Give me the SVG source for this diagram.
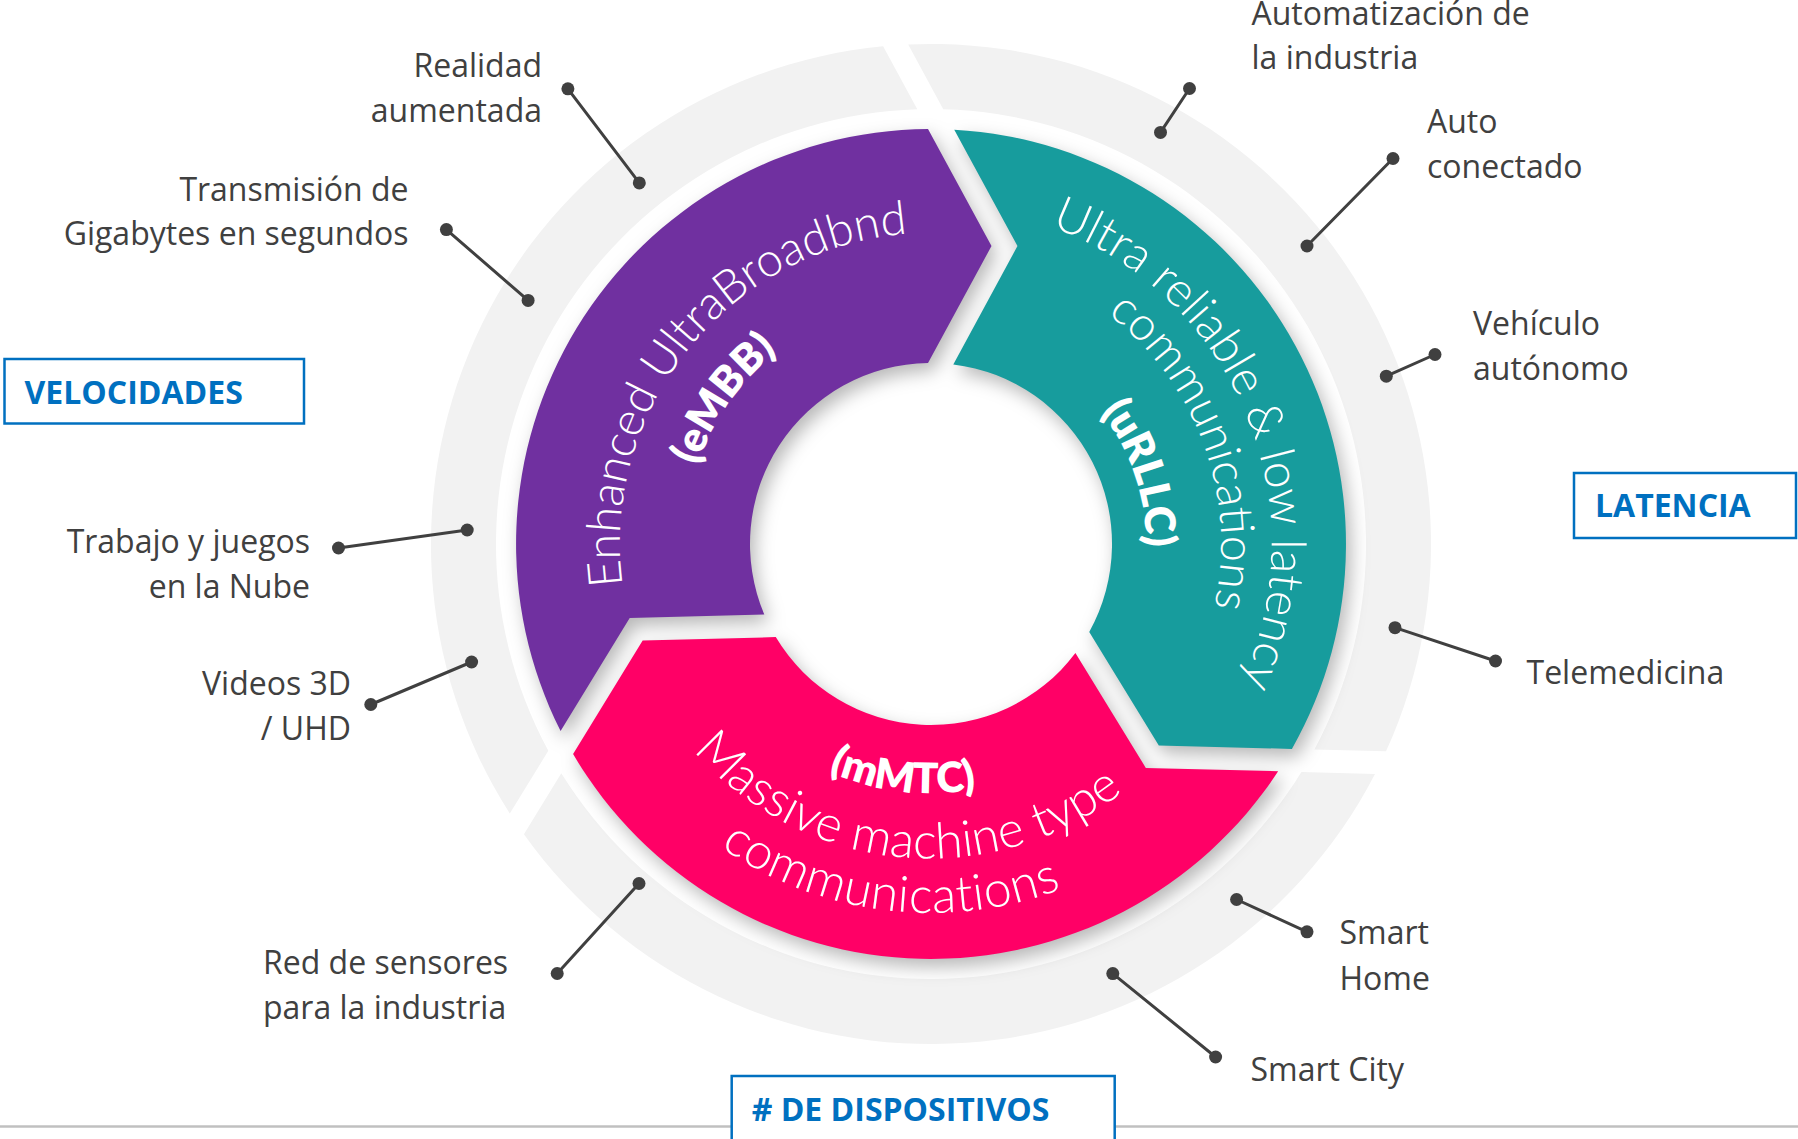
<svg xmlns="http://www.w3.org/2000/svg" width="1798" height="1139" viewBox="0 0 1798 1139">
<style>
.lbl{font-family:"Open Sans","Noto Sans",sans-serif;font-size:32px;fill:#404040}
.end{text-anchor:end}
.box{fill:#ffffff;stroke:#0070C0;stroke-width:2.5}
.boxt{font-family:"Open Sans","Noto Sans",sans-serif;font-size:32px;font-weight:700;fill:#0070C0}
.st{font-family:Lato,"Open Sans",sans-serif;font-weight:300;font-size:47px;fill:#ffffff}
.stp{font-family:Lato,"Open Sans",sans-serif;font-weight:300;font-size:50px;fill:#ffffff}
.sb{font-family:Lato,"Open Sans",sans-serif;font-weight:800;font-size:42px;fill:#ffffff}
.con line{stroke:#404040;stroke-width:3;stroke-linecap:round}
.con circle{fill:#404040}
.gray{fill:#f2f2f2}
</style>
<defs>
<path id="seg" d="M -370.4 187.0 A 415 415 0 0 1 -3 -415 L 60.5 -298 L -3 -181 A 181 181 0 0 0 -166.7 70.5 L -301.3 74.1 Z"/>
<path id="gseg" d="M -421.2 269.5 A 500 500 0 0 1 -47.9 -497.7 L -13.7 -434.8 A 435 435 0 0 0 -382.7 206.8 Z"/>
<filter id="shadow" x="-20%" y="-20%" width="140%" height="140%">
<feGaussianBlur in="SourceAlpha" stdDeviation="9"/>
<feOffset dx="5" dy="8" result="b"/>
<feFlood flood-color="#000000" flood-opacity="0.28"/>
<feComposite in2="b" operator="in"/>
</filter>
<path id="pE" d="M 780.2 816.0 A 311 311 0 1 1 1165.7 340.0"/>
<path id="pB" d="M 827.0 766.9 A 246 246 0 1 1 1104.9 370.1"/>
<path id="pU" d="M 744.3 263.5 A 338 338 0 1 1 1000.1 874.9"/>
<path id="pC" d="M 786.0 292.9 A 290 290 0 1 1 981.4 829.6"/>
<path id="pR" d="M 828.1 355.2 A 215 215 0 1 1 963.1 756.6"/>
<path id="pM" d="M 692.8 471.6 A 249 249 0 1 0 1179.6 530.5"/>
<path id="pMa" d="M 628.9 460.2 A 313 313 0 1 0 1242.0 519.4"/>
<path id="pCo" d="M 578.1 436.1 A 369 369 0 1 0 1299.5 524.7"/>
</defs>

<rect width="1798" height="1139" fill="#ffffff"/>

<g id="outer-ring" class="gray">
<use href="#gseg" transform="translate(931 544)"/>
<use href="#gseg" transform="translate(931 544) rotate(120)"/>
<use href="#gseg" transform="translate(931 544) rotate(240)"/>
</g>

<g id="ring-shadow" filter="url(#shadow)">
<use href="#seg" transform="translate(931 544)"/>
<use href="#seg" transform="translate(931 544) rotate(120)"/>
<use href="#seg" transform="translate(931 544) rotate(240)"/>
</g>

<g id="embb">
<use href="#seg" transform="translate(931 544)" fill="#7030A0"/>
<text class="st"><textPath href="#pE" startOffset="50%" text-anchor="middle">Enhanced UltraBroadbnd</textPath></text>
<text class="sb"><textPath href="#pB" startOffset="50%" text-anchor="middle">(eMBB)</textPath></text>
</g>

<g id="urllc">
<use href="#seg" transform="translate(931 544) rotate(120)" fill="#179C9D"/>
<text class="st" style="font-size:48px"><textPath href="#pU" startOffset="50%" text-anchor="middle">Ultra reliable &amp; low latency</textPath></text>
<text class="st"><textPath href="#pC" startOffset="50%" text-anchor="middle">communications</textPath></text>
<text class="sb"><textPath href="#pR" startOffset="50%" text-anchor="middle">(uRLLC)</textPath></text>
</g>

<g id="mmtc">
<use href="#seg" transform="translate(931 544) rotate(240)" fill="#FF0066"/>
<text class="sb"><textPath href="#pM" startOffset="50%" text-anchor="middle">(mMTC)</textPath></text>
<text class="stp"><textPath href="#pMa" startOffset="50%" text-anchor="middle">Massive machine type</textPath></text>
<text class="stp" style="letter-spacing:0.6px"><textPath href="#pCo" startOffset="50%" text-anchor="middle">communications</textPath></text>
</g>

<g id="connectors" class="con">
<line x1="567.9" y1="88.8" x2="639.3" y2="182.9"/><circle cx="567.9" cy="88.8" r="6.5"/><circle cx="639.3" cy="182.9" r="6.5"/>
<line x1="446.4" y1="229.6" x2="528.1" y2="300.4"/><circle cx="446.4" cy="229.6" r="6.5"/><circle cx="528.1" cy="300.4" r="6.5"/>
<line x1="338.5" y1="548" x2="467.2" y2="530"/><circle cx="338.5" cy="548" r="6.5"/><circle cx="467.2" cy="530" r="6.5"/>
<line x1="370.8" y1="704.5" x2="471.6" y2="662"/><circle cx="370.8" cy="704.5" r="6.5"/><circle cx="471.6" cy="662" r="6.5"/>
<line x1="557.2" y1="973.5" x2="639" y2="883.5"/><circle cx="557.2" cy="973.5" r="6.5"/><circle cx="639" cy="883.5" r="6.5"/>
<line x1="1189.5" y1="88.5" x2="1160.5" y2="132.4"/><circle cx="1189.5" cy="88.5" r="6.5"/><circle cx="1160.5" cy="132.4" r="6.5"/>
<line x1="1393" y1="158.5" x2="1307" y2="246"/><circle cx="1393" cy="158.5" r="6.5"/><circle cx="1307" cy="246" r="6.5"/>
<line x1="1435" y1="354.5" x2="1386.3" y2="376.2"/><circle cx="1435" cy="354.5" r="6.5"/><circle cx="1386.3" cy="376.2" r="6.5"/>
<line x1="1395" y1="627.7" x2="1495.5" y2="661"/><circle cx="1395" cy="627.7" r="6.5"/><circle cx="1495.5" cy="661" r="6.5"/>
<line x1="1236.6" y1="899.5" x2="1307" y2="931.8"/><circle cx="1236.6" cy="899.5" r="6.5"/><circle cx="1307" cy="931.8" r="6.5"/>
<line x1="1112.8" y1="973.6" x2="1215.6" y2="1057"/><circle cx="1112.8" cy="973.6" r="6.5"/><circle cx="1215.6" cy="1057" r="6.5"/>
</g>

<g id="labels">
<text class="lbl end" x="542" y="76.5">Realidad<tspan x="542" y="121.5">aumentada</tspan></text>
<text class="lbl end" x="408.5" y="201">Transmisión de<tspan x="408.5" y="245">Gigabytes en segundos</tspan></text>
<text class="lbl end" x="310" y="553">Trabajo y juegos<tspan x="310" y="598">en la Nube</tspan></text>
<text class="lbl end" x="351" y="695">Videos 3D<tspan x="351" y="740">/ UHD</tspan></text>
<text class="lbl" x="263" y="973.5">Red de sensores<tspan x="263" y="1018.5">para la industria</tspan></text>
<text class="lbl" x="1251.5" y="25">Automatización de<tspan x="1251.5" y="69">la industria</tspan></text>
<text class="lbl" x="1427" y="133">Auto<tspan x="1427" y="178">conectado</tspan></text>
<text class="lbl" x="1473" y="335">Vehículo<tspan x="1473" y="380">autónomo</tspan></text>
<text class="lbl" x="1526.5" y="684">Telemedicina</text>
<text class="lbl" x="1339.5" y="944">Smart<tspan x="1339.5" y="989.5">Home</tspan></text>
<text class="lbl" x="1250.5" y="1081">Smart City</text>
</g>

<line id="baseline" x1="0" y1="1126.5" x2="1798" y2="1126.5" stroke="#c0c0c0" stroke-width="2.5"/>

<g id="box-velocidades">
<rect class="box" x="4.5" y="359" width="299.5" height="64.5"/>
<text class="boxt" x="24.5" y="404">VELOCIDADES</text>
</g>
<g id="box-latencia">
<rect class="box" x="1574" y="473" width="222" height="65"/>
<text class="boxt" x="1595" y="517">LATENCIA</text>
</g>
<g id="box-dispositivos">
<rect class="box" x="731.7" y="1076" width="383" height="80"/>
<text class="boxt" x="751.7" y="1121"># DE DISPOSITIVOS</text>
</g>
</svg>
